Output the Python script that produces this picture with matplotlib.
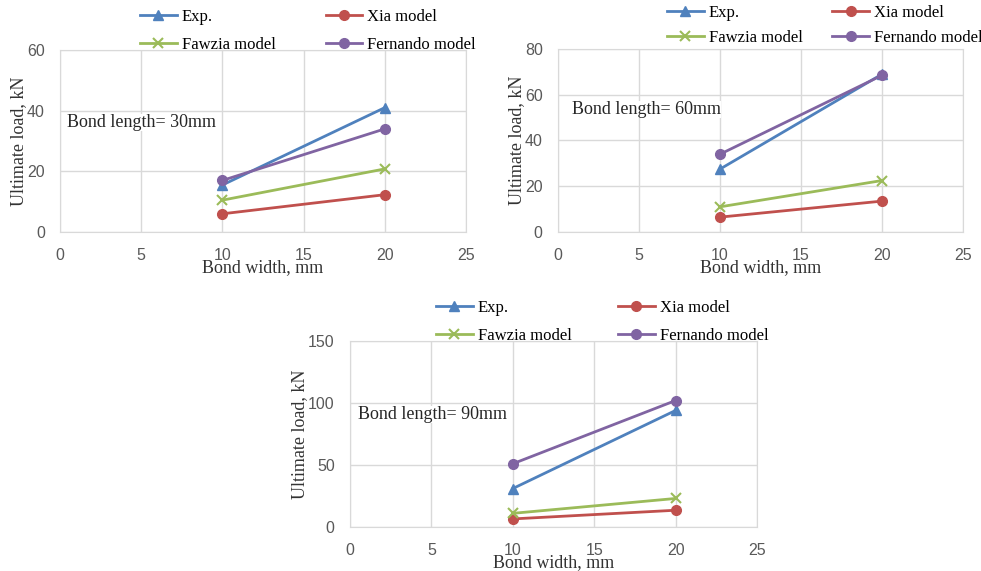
import matplotlib
matplotlib.use('Agg')
import matplotlib.pyplot as plt

# bond widths (mm)
widths = [10, 20]

# ultimate loads (kN) per bond length
exp_30 = [15.5, 41.0]
xia_30 = [6.0, 12.3]
fawzia_30 = [10.5, 20.8]
fernando_30 = [17.0, 34.0]

exp_60 = [27.5, 69.0]
xia_60 = [6.5, 13.5]
fawzia_60 = [11.0, 22.5]
fernando_60 = [34.0, 68.5]

exp_90 = [31.0, 94.0]
xia_90 = [6.5, 13.5]
fawzia_90 = [11.0, 23.0]
fernando_90 = [51.0, 102.0]

series_names = ['Exp.', 'Xia model', 'Fawzia model', 'Fernando model']
bond_lengths = ['Bond length= 30mm', 'Bond length= 60mm', 'Bond length= 90mm']
y_max = [60, 80, 150]
y_step = [20, 20, 50]

colors = ['#4F81BD', '#C0504D', '#9BBB59', '#8064A2']
markers = ['^', 'o', 'x', 'o']
serif = 'Liberation Serif'
sans = 'Liberation Sans'

fig = plt.figure(figsize=(9.81, 5.71), dpi=100)
ax1 = fig.add_axes([0.0612, 0.5937, 0.4138, 0.3187])
ax2 = fig.add_axes([0.5688, 0.5937, 0.4129, 0.3205])
ax3 = fig.add_axes([0.3568, 0.0771, 0.4149, 0.3257])

panels = [
    (ax1, [exp_30, xia_30, fawzia_30, fernando_30], (0.017, 0.604), (0.197, 1.225), 3.0, 0.7),
    (ax2, [exp_60, xia_60, fawzia_60, fernando_60], (0.035, 0.672), (0.269, 1.242), 1.8, 0.55),
    (ax3, [exp_90, xia_90, fawzia_90, fernando_90], (0.020, 0.607), (0.211, 1.22), 2.8, 0.7),
]

for i, (ax, data, txt_pos, leg_pos, colspace, rowspace) in enumerate(panels):
    lines = []
    for vals, name, c, m in zip(data, series_names, colors, markers):
        if m == 'x':
            ln, = ax.plot(widths, vals, color=c, marker=m, markersize=7, markeredgewidth=1.5,
                          linewidth=2, label=name)
        else:
            ln, = ax.plot(widths, vals, color=c, marker=m, markersize=7, linewidth=2, label=name)
        lines.append(ln)
    ax.set_xlim(0, 25)
    ax.set_ylim(0, y_max[i])
    ax.set_xticks(range(0, 26, 5))
    ax.set_yticks(range(0, y_max[i] + 1, y_step[i]))
    ax.grid(True, color='#D9D9D9', linewidth=1)
    ax.set_axisbelow(True)
    for s in ax.spines.values():
        s.set_color('#D9D9D9')
    ax.tick_params(length=0, labelsize=11.5, colors='#595959')
    ax.tick_params(axis='x', pad=11.5)
    ax.tick_params(axis='y', pad=11)
    for lab in ax.get_xticklabels() + ax.get_yticklabels():
        lab.set_fontfamily(sans)
    ax.set_xlabel('Bond width, mm', fontfamily=serif, fontsize=13, color='#333333', labelpad=-3)
    ax.set_ylabel('Ultimate load, kN', fontfamily=serif, fontsize=13, color='#333333', labelpad=0)
    ax.text(txt_pos[0], txt_pos[1], bond_lengths[i], transform=ax.transAxes, ha='left',
            va='center', fontfamily=serif, fontsize=13, color='#262626',
            bbox=dict(facecolor='white', edgecolor='none', pad=0))
    # row-wise legend order: Exp., Xia / Fawzia, Fernando
    order = [0, 2, 1, 3]
    ax.legend([lines[k] for k in order], [series_names[k] for k in order],
              ncol=2, loc='upper left', bbox_to_anchor=leg_pos, frameon=False,
              prop={'family': serif, 'size': 12}, handlelength=2.2, handletextpad=0.3,
              columnspacing=colspace, labelspacing=rowspace, borderpad=0, borderaxespad=0)

fig.savefig('out.png', dpi=100)
